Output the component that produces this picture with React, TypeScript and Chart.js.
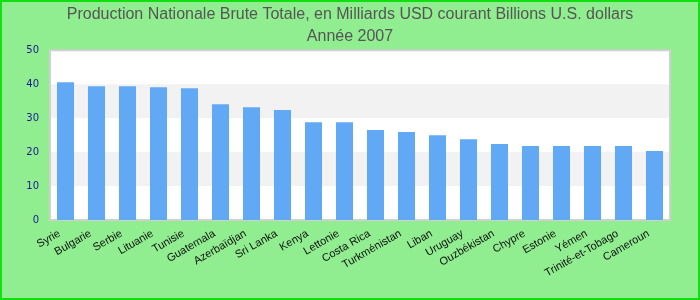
import React, { useEffect, useRef } from "react";
import { Chart, registerables } from "chart.js";

Chart.register(...registerables);

const titleLines = [
  "Production Nationale Brute Totale, en Milliards USD courant Billions U.S. dollars",
  "Année 2007",
];
const countries = [
  "Syrie", "Bulgarie", "Serbie", "Lituanie", "Tunisie", "Guatemala", "Azerbaïdjan",
  "Sri Lanka", "Kenya", "Lettonie", "Costa Rica", "Turkménistan", "Liban", "Uruguay",
  "Ouzbékistan", "Chypre", "Estonie", "Yémen", "Trinité-et-Tobago", "Cameroun",
];
const values = [
  40.6, 39.4, 39.4, 39.1, 38.8, 34.1, 33.2, 32.4, 28.8, 28.8, 26.5, 25.9, 25.0, 23.8,
  22.4, 21.8, 21.8, 21.8, 21.8, 20.3,
];
const yTicks = [0, 10, 20, 30, 40, 50];
const bands = [[10, 20], [30, 40]];

const bgPlugin = {
  id: "bgPlugin",
  beforeDraw(chart: any) {
    const { ctx, width, height } = chart;
    ctx.save();
    ctx.fillStyle = "#90EE90";
    ctx.fillRect(0, 0, width, height);
    ctx.strokeStyle = "#10e010";
    ctx.lineWidth = 2;
    ctx.strokeRect(1, 1, width - 2, height - 2);
    ctx.restore();
  },
  beforeDatasetsDraw(chart: any) {
    const { ctx, chartArea } = chart;
    const y = chart.scales.y;
    ctx.save();
    ctx.fillStyle = "#ffffff";
    ctx.fillRect(chartArea.left, chartArea.top, chartArea.right - chartArea.left, chartArea.bottom - chartArea.top);
    ctx.fillStyle = "#f2f2f2";
    for (const [a, b] of bands) {
      const ya = y.getPixelForValue(a);
      const yb = y.getPixelForValue(b);
      ctx.fillRect(chartArea.left, yb, chartArea.right - chartArea.left, ya - yb);
    }
    ctx.strokeStyle = "#d0d0d0";
    ctx.lineWidth = 2;
    ctx.strokeRect(chartArea.left, chartArea.top, chartArea.right - chartArea.left, chartArea.bottom - chartArea.top);
    ctx.restore();
  },
};

export default function App() {
  const ref = useRef<HTMLCanvasElement>(null);
  useEffect(() => {
    const chart = new Chart(ref.current!, {
      type: "bar",
      data: {
        labels: countries,
        datasets: [
          {
            data: values,
            backgroundColor: "#62A9F5",
            barPercentage: 0.55,
            categoryPercentage: 1,
          },
        ],
      },
      options: {
        animation: false,
        responsive: false,
        layout: { padding: { left: 0, right: 0, top: 3, bottom: 0 } },
        plugins: {
          legend: { display: false },
          tooltip: { enabled: false },
          title: {
            display: true,
            text: titleLines,
            color: "#555555",
            font: { family: "Liberation Sans", size: 16, weight: "normal", lineHeight: 1.4 },
            padding: { top: 0, bottom: 2.5 },
          },
        },
        scales: {
          x: {
            grid: { display: false, drawTicks: false },
            border: { display: false },
            ticks: {
              color: "#111111",
              font: { family: "Liberation Sans", size: 11 },
              minRotation: 30,
              maxRotation: 30,
              autoSkip: false,
              padding: 7,
              labelOffset: -6,
            },
            afterFit(axis: any) {
              axis.height = 80;
            },
          },
          y: {
            min: 0,
            max: 50,
            afterBuildTicks(axis: any) {
              axis.ticks = yTicks.map((v) => ({ value: v }));
            },
            grid: { display: false, drawTicks: false },
            border: { display: false },
            ticks: {
              color: "#1a1a90",
              font: { family: "DejaVu Sans", size: 10 },
              padding: 11,
            },
            afterFit(axis: any) {
              axis.width = 50;
            },
          },
          y2: {
            position: "right",
            min: 0,
            max: 50,
            grid: { display: false, drawTicks: false },
            border: { display: false },
            ticks: { display: false },
            afterFit(axis: any) {
              axis.width = 30;
            },
          },
        },
      },
      plugins: [bgPlugin],
    });
    return () => chart.destroy();
  }, []);
  return (
    <div style={{ position: "fixed", left: 0, top: 0, width: 700, height: 300 }}>
      <canvas ref={ref} width={700} height={300} style={{ display: "block" }} />
    </div>
  );
}
